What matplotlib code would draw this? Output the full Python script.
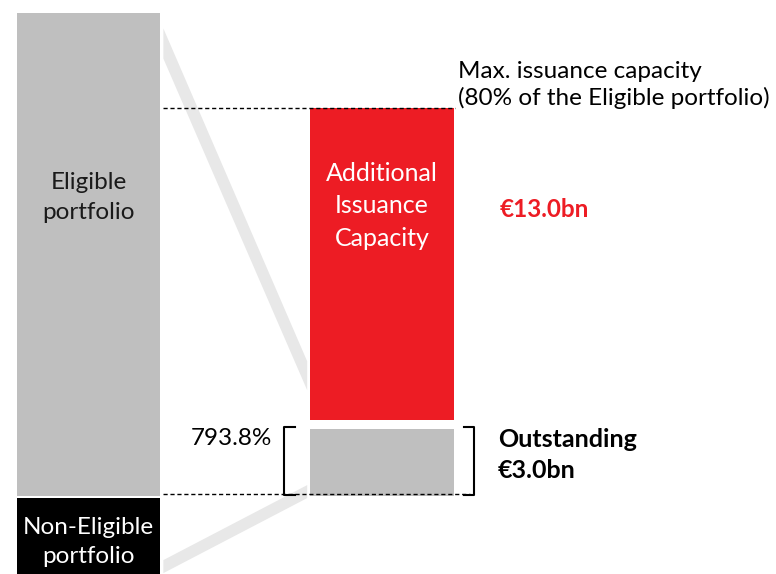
import matplotlib
matplotlib.use("Agg")
import matplotlib.pyplot as plt
from matplotlib.patches import Polygon

plt.rcParams["font.family"] = ["Lato", "DejaVu Sans"]

# Data (EUR bn)
eligible = 20.0          # eligible portfolio
non_eligible = 4.0       # non-eligible portfolio (shown below the baseline, cut off)
outstanding = 3.0
additional = 13.0
max_capacity = outstanding + additional   # 80% of eligible
coverage_label = "793.8%"

RED = "#ED1C24"
GREY = "#BFBFBF"
BAND = "#E8E8E8"

fig = plt.figure(figsize=(7.76, 5.74), dpi=100)
ax = fig.add_axes([0, 0, 1, 1])
ax.set_xlim(-0.3015, 2.342)
ax.set_ylim(-3.316, 20.477)
ax.axis("off")

w = 0.49
# funnel bands (decoration)
x0, x1 = w / 2 + 0.01, 1 - w / 2 - 0.01
ax.add_patch(Polygon([(x0, 19.3), (x1, 5.5), (x1, 4.3), (x0, 18.05)],
                     closed=True, color=BAND, lw=0, zorder=1))
ax.add_patch(Polygon([(x1, 0.37), (x1, -0.17), (x0, -3.28), (x0, -2.74)],
                     closed=True, color=BAND, lw=0, zorder=1))

# left bar
ax.bar(0, eligible, width=w, bottom=-0.08, color=GREY, lw=0, zorder=2)
ax.bar(0, -non_eligible, width=w, bottom=-0.17, color="black", lw=0, zorder=2)

# right bar
ax.bar(1, outstanding - 0.22, width=w, bottom=-0.08, color=GREY, lw=0, zorder=2)
ax.bar(1, additional - 0.06, width=w, bottom=outstanding + 0.06, color=RED, lw=0, zorder=2)

# dashed reference lines
ax.plot([0.254, 1.249], [max_capacity, max_capacity], color="black", lw=1,
        ls=(0, (3, 2)), zorder=3)
ax.plot([0.254, 1.30], [0, 0], color="black", lw=1, ls=(0, (3, 2)), zorder=3)

# brackets around outstanding
top = outstanding - 0.22
ax.plot([0.704, 0.665, 0.665, 0.704], [top, top, -0.05, -0.05], color="black", lw=1.5, zorder=4)
ax.plot([1.278, 1.313, 1.313, 1.278], [top, top, -0.05, -0.05], color="black", lw=1.5, zorder=4)

# labels
ax.text(0, 12.3, "Eligible\nportfolio", ha="center", va="center", fontsize=17.5,
        linespacing=1.55, color="#1a1a1a", zorder=5)
ax.text(0, -1.98, "Non-Eligible\nportfolio", ha="center", va="center", fontsize=17.5,
        linespacing=1.45, color="white", zorder=5)
ax.text(1, 11.94, "Additional\nIssuance\nCapacity", ha="center", va="center", fontsize=18,
        linespacing=1.5, color="white", zorder=5)
ax.text(1.402, 11.8, "€%.1fbn" % additional, ha="left", va="center", fontsize=17.5,
        fontweight="bold", color=RED, zorder=5)
ax.text(1.395, 1.62, "Outstanding\n€%.1fbn" % outstanding, ha="left", va="center",
        fontsize=18, fontweight="bold", linespacing=1.42, color="black", zorder=5)
ax.text(0.625, 2.32, coverage_label, ha="right", va="center", fontsize=17.5,
        color="black", zorder=5)
ax.text(1.259, 16.95, "Max. issuance capacity\n(80% of the Eligible portfolio)",
        ha="left", va="center", fontsize=17.5, linespacing=1.25, color="black", zorder=5)

fig.savefig("out.png", dpi=100)
